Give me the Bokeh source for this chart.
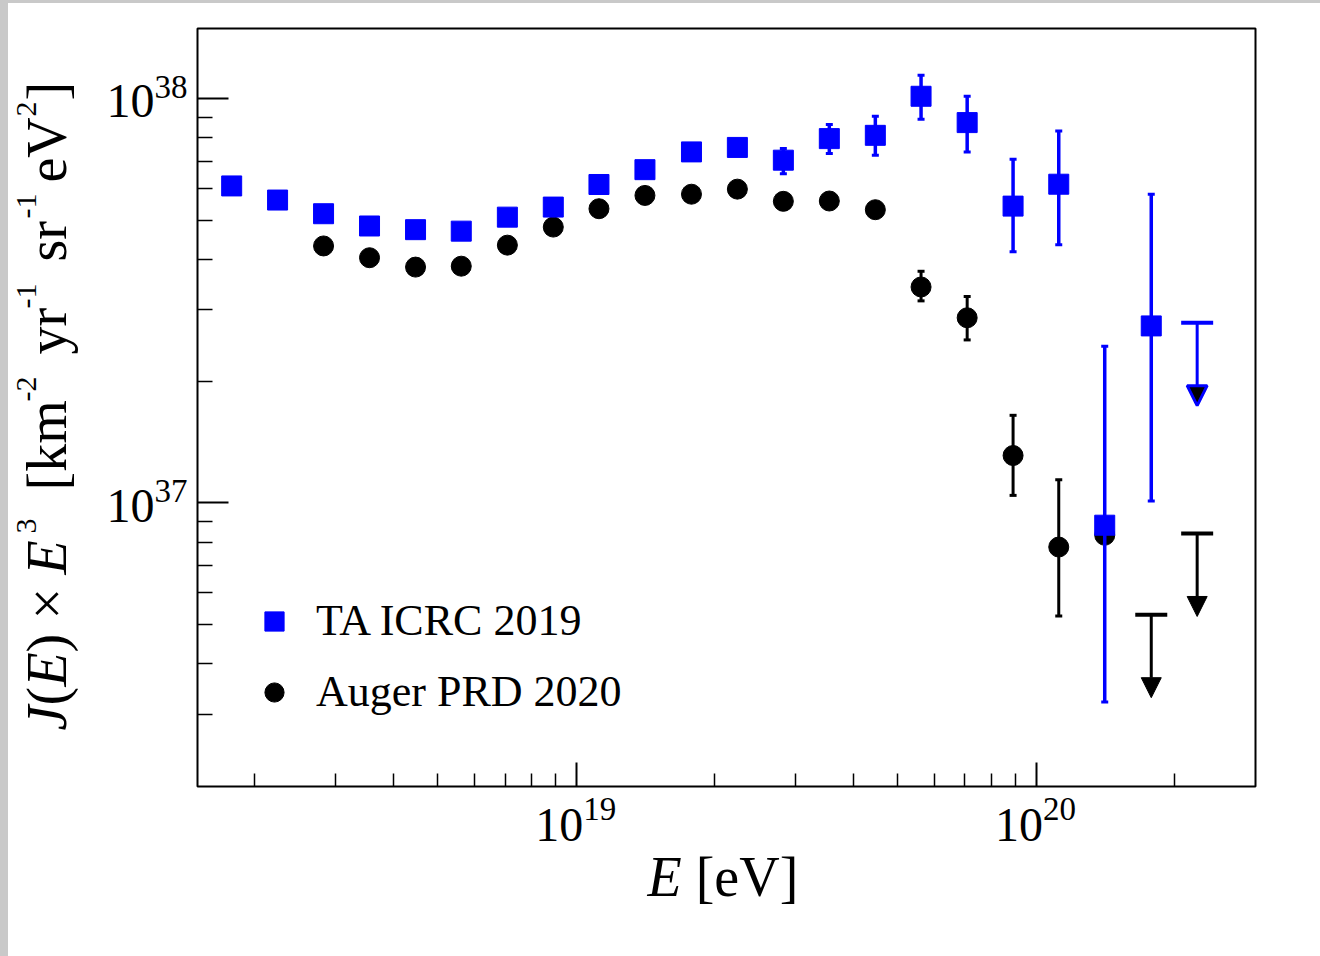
from bokeh.plotting import figure
from bokeh.models import (ColumnDataSource, FixedTicker, Label, Legend, LegendItem,
                          Arrow, NormalHead, Range1d, Spacer)
from bokeh.layouts import column, row
from bokeh.embed import file_html
from bokeh.resources import INLINE

nan = float("nan")

# ---------------- data ----------------
ta_energy = [1.78e18, 2.24e18, 2.82e18, 3.55e18, 4.47e18, 5.62e18, 7.08e18, 8.91e18,
             1.12e19, 1.41e19, 1.78e19, 2.24e19, 2.82e19, 3.55e19, 4.47e19, 5.62e19,
             7.08e19, 8.91e19, 1.12e20, 1.41e20, 1.78e20]
ta_flux = [6.08e37, 5.61e37, 5.19e37, 4.84e37, 4.74e37, 4.70e37, 5.09e37, 5.39e37,
           6.13e37, 6.67e37, 7.38e37, 7.57e37, 7.04e37, 7.96e37, 8.11e37, 1.013e38,
           8.72e37, 5.42e37, 6.14e37, 8.81e36, 2.74e37]
ta_err_hi = [nan, nan, nan, nan, nan, nan, nan, nan, nan, nan, nan, nan,
             7.52e37, 8.62e37, 9.04e37, 1.142e38, 1.013e38, 7.08e37, 8.31e37, 2.44e37, 5.80e37]
ta_err_lo = [nan, nan, nan, nan, nan, nan, nan, nan, nan, nan, nan, nan,
             6.52e37, 7.31e37, 7.24e37, 8.89e37, 7.38e37, 4.18e37, 4.35e37, 3.22e36, 1.011e37]
ta_limit_energy = [2.24e20]
ta_limit_flux = [2.79e37]

auger_energy = [2.82e18, 3.55e18, 4.47e18, 5.62e18, 7.08e18, 8.91e18, 1.12e19, 1.41e19,
                1.78e19, 2.24e19, 2.82e19, 3.55e19, 4.47e19, 5.62e19, 7.08e19, 8.91e19,
                1.12e20, 1.41e20]
auger_flux = [4.32e37, 4.04e37, 3.83e37, 3.85e37, 4.34e37, 4.81e37, 5.34e37, 5.76e37,
              5.80e37, 5.97e37, 5.57e37, 5.58e37, 5.31e37, 3.42e37, 2.87e37, 1.31e37,
              7.78e36, 8.32e36]
auger_err_hi = [nan, nan, nan, nan, nan, nan, nan, nan, nan, nan, nan, nan, nan,
                3.74e37, 3.24e37, 1.647e37, 1.142e37, nan]
auger_err_lo = [nan, nan, nan, nan, nan, nan, nan, nan, nan, nan, nan, nan, nan,
                3.16e37, 2.53e37, 1.044e37, 5.25e36, nan]
auger_limit_energy = [1.78e20, 2.24e20]
auger_limit_flux = [5.29e36, 8.40e36]

x_major_ticks = [1e19, 1e20]
x_exponents = ["19", "20"]
x_minor_ticks = [2e18, 3e18, 4e18, 5e18, 6e18, 7e18, 8e18, 9e18,
                 2e19, 3e19, 4e19, 5e19, 6e19, 7e19, 8e19, 9e19, 2e20]
y_major_ticks = [1e37, 1e38]
y_exponents = ["37", "38"]
y_minor_ticks = [3e36, 4e36, 5e36, 6e36, 7e36, 8e36, 9e36,
                 2e37, 3e37, 4e37, 5e37, 6e37, 7e37, 8e37, 9e37]

# ---------------- styles / layout ----------------
FONT = "Liberation Serif"
BLUE = "#0000ff"
BLACK = "#000000"
GRAY = "#c9c9c9"
ARROW_DECADES = 0.205          # length of upper-limit arrows
BFIX = 0.36                    # baseline correction (fraction of font size)
W, H = 1320, 956
FL, FR, FT, FB = 197, 1255, 28, 786
EDGE_L, EDGE_T = 8, 3
PAD = 2
ROW_H = FB + PAD - EDGE_T
BOT_H = H - EDGE_T - ROW_H
LEFT_W = FL - PAD - EDGE_L
MAIN_W = W - EDGE_L - LEFT_W

xr = Range1d(1.5e18, 3e20)
yr = Range1d(1.99e36, 1.49e38)

common = dict(output_backend="svg", toolbar_location=None, title=None,
              background_fill_color="white", border_fill_color="white")

p = figure(width=MAIN_W, height=ROW_H, x_axis_type="log", y_axis_type="log",
           x_range=xr, y_range=yr, min_border_left=PAD, min_border_right=W - FR,
           min_border_top=FT - EDGE_T, min_border_bottom=PAD, **common)
p.grid.visible = False
p.outline_line_color = "black"
p.outline_line_width = 2

for ax, maj, mino, mj_in, mn_in in ((p.xaxis[0], x_major_ticks, x_minor_ticks, 24, 13),
                                    (p.yaxis[0], y_major_ticks, y_minor_ticks, 31, 15)):
    ax.ticker = FixedTicker(ticks=maj, minor_ticks=mino)
    ax.axis_line_color = None
    ax.major_tick_out = 0
    ax.minor_tick_out = 0
    ax.major_tick_in = mj_in
    ax.minor_tick_in = mn_in
    ax.major_tick_line_width = 2
    ax.minor_tick_line_width = 1.5
    ax.major_tick_line_color = "black"
    ax.minor_tick_line_color = "black"
    ax.major_label_overrides = {v: "" for v in maj}
    ax.major_label_text_font_size = "0px"
    ax.major_label_standoff = 0

# ---------------- Auger ----------------
au = ColumnDataSource(dict(x=auger_energy, y=auger_flux, lo=auger_err_lo, hi=auger_err_hi))
p.segment(x0="x", y0="lo", x1="x", y1="hi", source=au, line_color=BLACK, line_width=3)
p.scatter(x="x", y="lo", marker="dash", size=7, line_width=3, line_color=BLACK, source=au)
p.scatter(x="x", y="hi", marker="dash", size=7, line_width=3, line_color=BLACK, source=au)
au_r = p.scatter(x="x", y="y", marker="circle", size=20, fill_color=BLACK,
                 line_color=BLACK, source=au)

aul = ColumnDataSource(dict(x=auger_limit_energy, y=auger_limit_flux,
                            tip=[v * 10 ** (-ARROW_DECADES) for v in auger_limit_flux]))
p.scatter(x="x", y="y", marker="dash", size=32, line_width=4, line_color=BLACK, source=aul)
p.add_layout(Arrow(end=NormalHead(size=20, fill_color=BLACK, line_color=BLACK, line_width=1),
                   x_start="x", y_start="y", x_end="x", y_end="tip", source=aul,
                   line_color=BLACK, line_width=3))

# ---------------- TA ----------------
ta = ColumnDataSource(dict(x=ta_energy, y=ta_flux, lo=ta_err_lo, hi=ta_err_hi))
p.segment(x0="x", y0="lo", x1="x", y1="hi", source=ta, line_color=BLUE, line_width=3.5)
p.scatter(x="x", y="lo", marker="dash", size=7, line_width=3, line_color=BLUE, source=ta)
p.scatter(x="x", y="hi", marker="dash", size=7, line_width=3, line_color=BLUE, source=ta)
ta_r = p.scatter(x="x", y="y", marker="square", size=20, fill_color=BLUE,
                 line_color=BLUE, source=ta)

tal = ColumnDataSource(dict(x=ta_limit_energy, y=ta_limit_flux,
                            tip=[v * 10 ** (-ARROW_DECADES) for v in ta_limit_flux]))
p.scatter(x="x", y="y", marker="dash", size=32, line_width=4, line_color=BLUE, source=tal)
p.add_layout(Arrow(end=NormalHead(size=20, fill_color=BLACK, line_color=BLUE, line_width=3),
                   x_start="x", y_start="y", x_end="x", y_end="tip", source=tal,
                   line_color=BLUE, line_width=3))

# ---------------- legend ----------------
legend = Legend(items=[LegendItem(label="TA ICRC 2019", renderers=[ta_r]),
                       LegendItem(label="Auger PRD 2020", renderers=[au_r])],
                location=(53, 69), orientation="vertical",
                glyph_width=48, glyph_height=48, label_height=48, label_width=10,
                spacing=20, padding=0, margin=0, label_standoff=18,
                border_line_color=None, background_fill_alpha=0,
                label_text_font=FONT, label_text_font_size="44px",
                label_text_color="black")
p.add_layout(legend)

# ---------------- left text panel (shares the y scale) ----------------
left = figure(width=LEFT_W, height=ROW_H, y_axis_type="log", y_range=yr,
              x_range=Range1d(EDGE_L, EDGE_L + LEFT_W),
              x_axis_location=None, y_axis_location=None,
              min_border_left=0, min_border_right=0,
              min_border_top=FT - EDGE_T, min_border_bottom=PAD, **common)
left.outline_line_color = None
left.grid.visible = False

# ---------------- bottom text panel (shares the x scale) ----------------
bottom = figure(width=W - EDGE_L, height=BOT_H, x_axis_type="log", x_range=xr,
                y_range=Range1d(0, BOT_H), x_axis_location=None, y_axis_location=None,
                min_border_left=FL - EDGE_L, min_border_right=W - FR,
                min_border_top=0, min_border_bottom=0, **common)
bottom.outline_line_color = None
bottom.grid.visible = False


def lab(fig, **kw):
    base = dict(text_font=FONT, text_color="black", text_align="left",
                text_baseline="alphabetic")
    base.update(kw)
    fig.add_layout(Label(**base))


# tick labels
for v, e in zip(y_major_ticks, y_exponents):
    lab(left, x=154, y=v, y_offset=-20 + BFIX * 48, text="10", text_align="right",
        text_font_size="48px")
    lab(left, x=154, y=v, y_offset=0 + BFIX * 33, text=e, text_font_size="33px")
for v, e in zip(x_major_ticks, x_exponents):
    lab(bottom, x=v, x_offset=7, y=H - 842 + BFIX * 48, text="10", text_align="right",
        text_font_size="48px")
    lab(bottom, x=v, x_offset=7, y=H - 820 + BFIX * 33, text=e, text_font_size="33px")

# ---------------- axis titles (rich text built from pieces) ----------------
ADV = {" ": 0.25, "(": 0.333, ")": 0.333, "[": 0.333, "]": 0.333, "×": 0.564,
       "-": 0.333, "k": 0.5, "m": 0.778, "y": 0.5, "r": 0.333, "s": 0.389,
       "e": 0.444, "V": 0.722, "J": 0.444, "E": 0.611}
for d in "0123456789":
    ADV[d] = 0.5


def width(txt, size):
    return sum(ADV.get(c, 0.5) for c in txt) * size


MAIN, SUP, RAISE = 56, 30, 30

# x title: E [eV]  (x in screen units of the bottom panel's frame)
x0 = 647 - FL
ybase = H - 897 + BFIX * MAIN
lab(bottom, x=x0, y=ybase, x_units="screen", text="E", text_font_style="italic",
    text_font_size=f"{MAIN}px")
lab(bottom, x=x0 + width("E ", MAIN), y=ybase, x_units="screen", text="[eV]",
    text_font_size=f"{MAIN}px")

# y title: J(E) × E^3 [km^-2 yr^-1 sr^-1 eV^2], rotated; start of each piece
# given as the page row where it begins (text runs upwards)
pieces = [("J", "italic", 0, 730), ("(", "normal", 0, 705), ("E", "italic", 0, 686),
          (")", "normal", 0, 652), ("×", "normal", 0, 619), ("E", "italic", 0, 574),
          ("3", "normal", 1, 533), ("[km", "normal", 0, 490), ("-2", "normal", 1, 401),
          ("yr", "normal", 0, 354), ("-1", "normal", 1, 308), ("sr", "normal", 0, 261),
          ("-1", "normal", 1, 218), ("eV", "normal", 0, 182), ("2", "normal", 1, 116),
          ("]", "normal", 0, 100)]
for txt, style, sup, start_row in pieces:
    size = SUP if sup else MAIN
    bx = 67 - (RAISE if sup else 0) - BFIX * size
    lab(left, x=bx, y=FB - start_row, y_units="screen", angle=90, angle_units="deg",
        text=txt, text_font_style=style, text_font_size=f"{size}px")

# ---------------- page layout ----------------
gray = {"background-color": GRAY}
page = column(Spacer(width=W, height=EDGE_T, styles=gray),
              row(Spacer(width=EDGE_L, height=ROW_H, styles=gray), left, p),
              row(Spacer(width=EDGE_L, height=BOT_H, styles=gray), bottom))

open("out.html", "w").write(file_html(page, INLINE))
